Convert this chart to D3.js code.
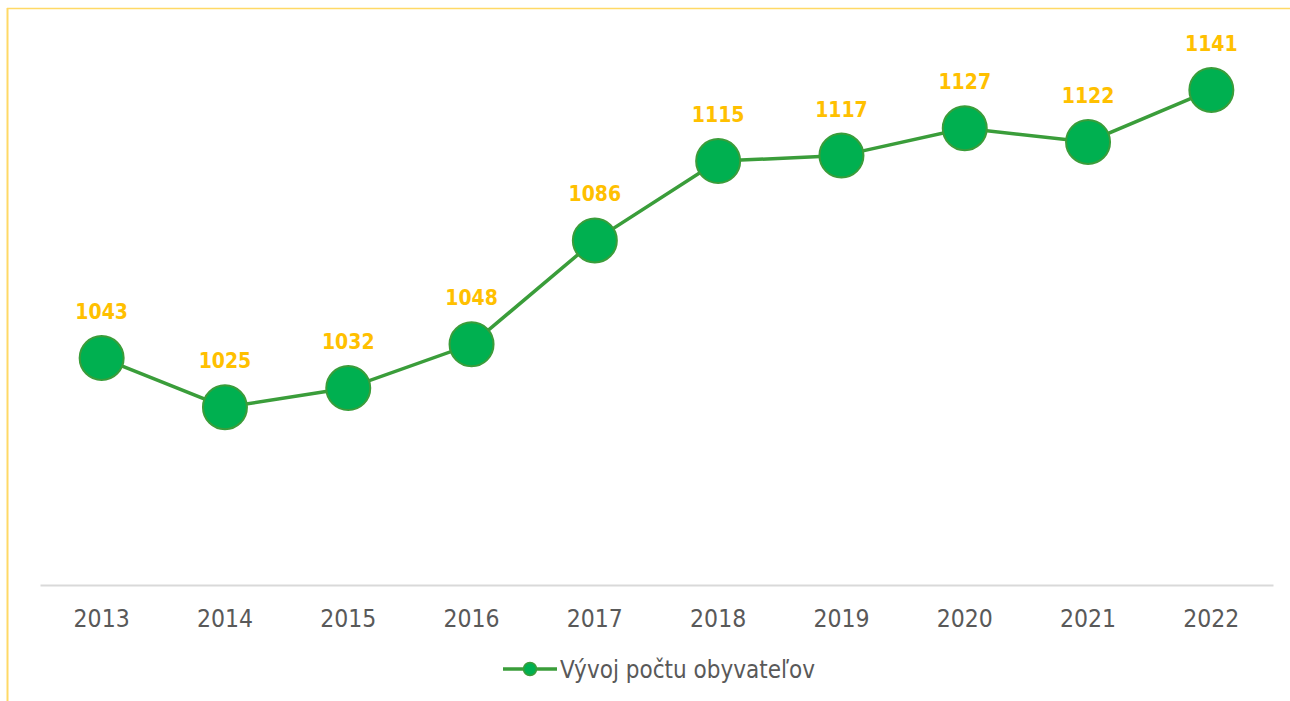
<!DOCTYPE html>
<html>
<head>
<meta charset="utf-8">
<script src="https://cdn.jsdelivr.net/npm/d3@7"></script>
<style>
  body { margin: 0; background: #fff; }
  svg { display: block; }
</style>
</head>
<body>
<script>
// Data
var years = ["2013", "2014", "2015", "2016", "2017", "2018", "2019", "2020", "2021", "2022"];
var population = [1043, 1025, 1032, 1048, 1086, 1115, 1117, 1127, 1122, 1141];
var seriesName = "Vývoj počtu obyvateľov";

var svgWidth = 1290;
var svgHeight = 701;

var margin = { top: 38, right: 17, bottom: 116, left: 40 };
var width = svgWidth - margin.left - margin.right;
var height = svgHeight - margin.top - margin.bottom;

var font = "'DejaVu Sans Condensed', 'DejaVu Sans', sans-serif";

var svg = d3.select("body")
  .append("svg")
  .attr("width", svgWidth)
  .attr("height", svgHeight);

// frame (yellow border, top and left)
svg.append("line")
  .attr("x1", 7).attr("x2", svgWidth).attr("y1", 8.5).attr("y2", 8.5)
  .attr("stroke", "#FFD966").attr("stroke-width", 1.5);
svg.append("line")
  .attr("x1", 7.5).attr("x2", 7.5).attr("y1", 8).attr("y2", svgHeight)
  .attr("stroke", "#FFD966").attr("stroke-width", 2);

var chartGroup = svg.append("g")
  .attr("transform", `translate(${margin.left}, ${margin.top})`);

var xScale = d3.scaleBand().domain(years).range([0, width]);
var yScale = d3.scaleLinear().domain([960, 1160]).range([height, 0]);

var cx = d => xScale(d.year) + xScale.bandwidth() / 2;

var data = years.map((y, i) => ({ year: y, value: population[i] }));

// x axis
var bottomAxis = d3.axisBottom(xScale).tickSize(0).tickPadding(0);
var xAxis = chartGroup.append("g")
  .attr("transform", `translate(0, ${height})`)
  .call(bottomAxis);
xAxis.select(".domain").attr("stroke", "#D9D9D9").attr("stroke-width", 2);
xAxis.selectAll("text")
  .attr("dy", null)
  .attr("y", 42)
  .style("font-family", font)
  .style("font-size", "24.5px")
  .attr("fill", "#595959");

// line
var line = d3.line()
  .x(cx)
  .y(d => yScale(d.value));

chartGroup.append("path")
  .datum(data)
  .attr("d", line)
  .attr("fill", "none")
  .attr("stroke", "#3A9D3A")
  .attr("stroke-width", 3.5);

// markers
chartGroup.selectAll("circle.pt")
  .data(data)
  .enter()
  .append("circle")
  .attr("class", "pt")
  .attr("cx", cx)
  .attr("cy", d => yScale(d.value))
  .attr("r", 22)
  .attr("fill", "#00B050")
  .attr("stroke", "#3A9D3A")
  .attr("stroke-width", 2);

// value labels
chartGroup.selectAll("text.lbl")
  .data(data)
  .enter()
  .append("text")
  .attr("class", "lbl")
  .attr("x", cx)
  .attr("y", d => yScale(d.value) - 39)
  .attr("text-anchor", "middle")
  .style("font-family", font)
  .style("font-size", "21px")
  .style("font-weight", "bold")
  .attr("fill", "#FFC000")
  .text(d => d.value);

// legend
var legend = svg.append("g").attr("transform", "translate(503, 669)");
legend.append("line")
  .attr("x1", 0).attr("x2", 54).attr("y1", 0).attr("y2", 0)
  .attr("stroke", "#3A9D3A").attr("stroke-width", 3.5);
legend.append("circle")
  .attr("cx", 27).attr("cy", 0).attr("r", 6.5)
  .attr("fill", "#00B050").attr("stroke", "#3A9D3A").attr("stroke-width", 1.5);
legend.append("text")
  .attr("x", 57)
  .attr("y", 8.5)
  .style("font-family", font)
  .style("font-size", "24px")
  .attr("fill", "#595959")
  .text(seriesName);
</script>
</body>
</html>
